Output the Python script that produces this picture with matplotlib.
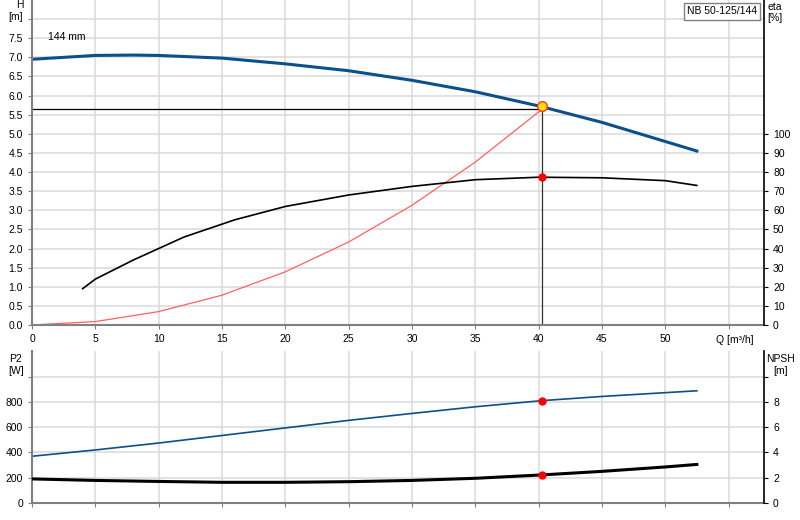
import matplotlib
matplotlib.use("Agg")
import matplotlib.pyplot as plt
import numpy as np

q_h = [0, 5, 8, 10, 15, 20, 25, 30, 35, 40, 45, 50, 52.5]
h_vals = [6.95, 7.05, 7.06, 7.05, 6.98, 6.83, 6.65, 6.40, 6.10, 5.73, 5.30, 4.80, 4.55]
q_eta = [4, 5, 8, 12, 16, 20, 25, 30, 35, 40, 45, 50, 52.5]
eta_vals = [19, 24, 34, 46, 55, 62, 68, 72.5, 76, 77.3, 77, 75.5, 73]
q_sys = [0, 5, 10, 15, 20, 25, 30, 35, 40.3]
h_sys = [0, 0.09, 0.35, 0.78, 1.39, 2.17, 3.13, 4.26, 5.65]
q_p = [0, 5, 10, 15, 20, 25, 30, 35, 40.3, 45, 50, 52.5]
p2_vals = [370, 420, 475, 535, 595, 655, 710, 763, 812, 845, 875, 890]
npsh_vals = [1.9, 1.78, 1.7, 1.63, 1.63, 1.68, 1.78, 1.95, 2.22, 2.5, 2.85, 3.05]
q_op, h_op, h_op_line, eta_op, p2_op, npsh_op = 40.3, 5.72, 5.65, 77.3, 812, 2.22

plt.rcParams['font.family'] = ['Liberation Sans', 'DejaVu Sans']
grid = "#dadada"; blue = "#0b4f8c"; fs = 7.5
fig = plt.figure(figsize=(8, 5.2), dpi=100)
ax = fig.add_axes([0.040, 0.375, 0.915, 0.625])
axb = fig.add_axes([0.040, 0.033, 0.915, 0.292])

for a in (ax, axb):
    a.set_xlim(0, 57.8)
    a.set_xticks(np.arange(0, 56, 5))
    a.grid(True, color=grid, lw=1.1)
    a.set_axisbelow(True)
    for s in ("top", "right"):
        a.spines[s].set_visible(False)
    for s in ("left", "bottom"):
        a.spines[s].set_color("#808080"); a.spines[s].set_linewidth(1.5)
    a.tick_params(labelsize=fs, length=3, color="#808080")

ax.set_ylim(0, 8.5)
ax.set_yticks(np.arange(0, 8.01, 0.5))
ax.set_yticklabels([f"{v:.1f}" if v <= 7.5 else "" for v in np.arange(0, 8.01, 0.5)])
ax.set_xticklabels([str(v) if v <= 50 else "" for v in range(0, 56, 5)])
ax.plot(q_h, h_vals, color=blue, lw=2.2)
ax.plot(q_sys, h_sys, color="#ff6060", lw=0.9)
ax.plot([0, q_op], [h_op_line, h_op_line], color="black", lw=0.9)
ax.plot([q_op, q_op], [0, h_op_line], color="#333333", lw=0.9)
ax.plot(q_op, h_op, "o", ms=7, mfc="#ffe000", mec="#ff3030", mew=1)
ax.text(1.3, 7.45, "144 mm", fontsize=fs)
ax.text(0.99, 0.965, "NB 50-125/144", fontsize=fs, ha="right", va="center",
        transform=ax.transAxes,
        bbox=dict(boxstyle="square,pad=0.3", fc="white", ec="#808080"))
ax.text(-0.012, 1.0, "H\n[m]", fontsize=fs, ha="right", va="top", transform=ax.transAxes)
ax.text(55.5, -0.4, "Q [m³/h]", fontsize=fs, ha="center", va="center")

ax2 = ax.twinx()
ax2.set_ylim(0, 170)
ax2.set_yticks(np.arange(0, 101, 10))
ax2.tick_params(labelsize=fs, length=3)
for s in ("top", "left", "bottom"):
    ax2.spines[s].set_visible(False)
ax2.spines["right"].set_linewidth(1.2)
ax2.plot(q_eta, eta_vals, color="black", lw=1.2)
ax2.plot(q_op, eta_op, "o", ms=5, color="red")
ax2.text(1.005, 0.995, "eta\n[%]", fontsize=fs, ha="left", va="top", transform=ax2.transAxes)

axb.set_ylim(0, 1206)
axb.set_yticks(np.arange(0, 1001, 200))
axb.set_yticklabels(["0", "200", "400", "600", "800", ""])
axb.set_xticklabels([])
axb.plot(q_p, p2_vals, color=blue, lw=1.2)
axb.plot(q_op, p2_op, "o", ms=5, color="red")
axb.text(-0.022, 0.98, "P2\n[W]", fontsize=fs, ha="center", va="top", transform=axb.transAxes)

axb2 = axb.twinx()
axb2.set_ylim(0, 12.06)
axb2.set_yticks(np.arange(0, 10.1, 2))
axb2.set_yticklabels(["0", "2", "4", "6", "8", ""])
axb2.tick_params(labelsize=fs, length=3)
for s in ("top", "left", "bottom"):
    axb2.spines[s].set_visible(False)
axb2.spines["right"].set_linewidth(1.2)
axb2.plot(q_p, npsh_vals, color="black", lw=2.2)
axb2.plot(q_op, npsh_op, "o", ms=5, color="red")
axb2.text(1.022, 0.98, "NPSH\n[m]", fontsize=fs, ha="center", va="top", transform=axb2.transAxes)

fig.savefig("out.png", dpi=100)
